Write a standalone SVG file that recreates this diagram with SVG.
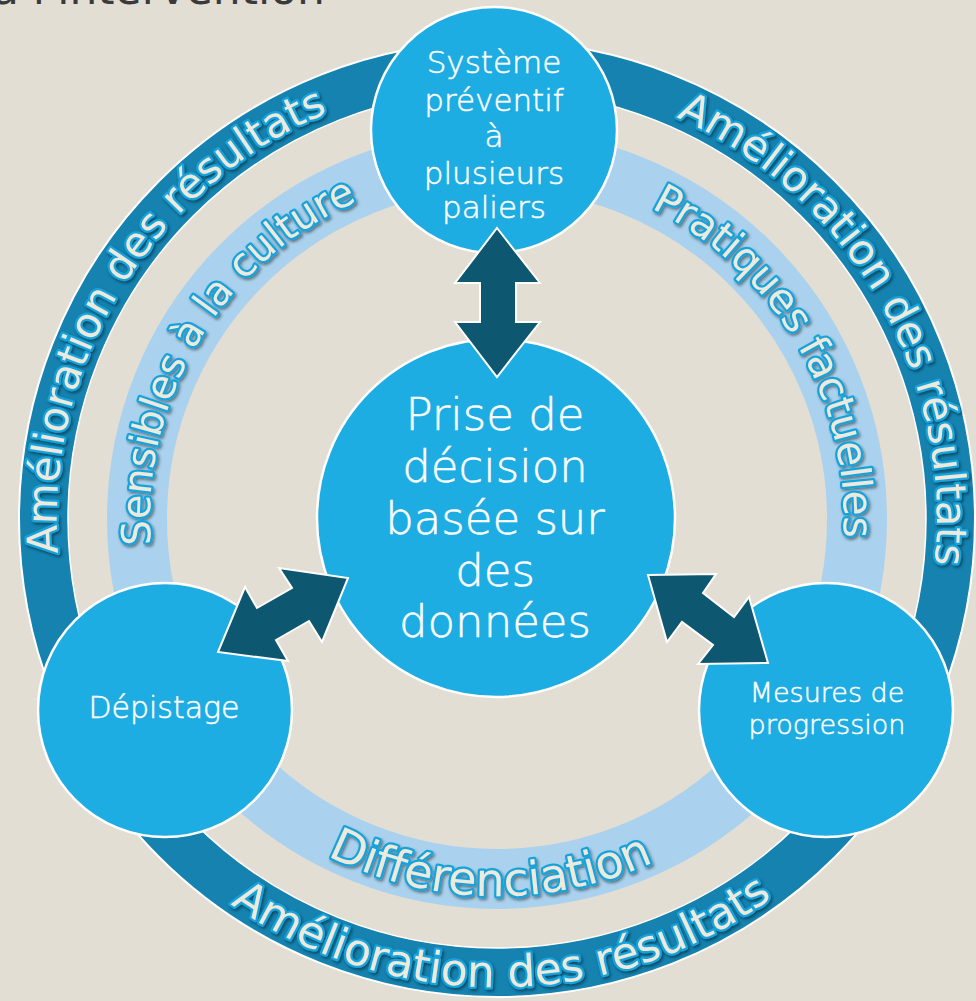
<svg xmlns="http://www.w3.org/2000/svg" width="976" height="1001" viewBox="0 0 976 1001">
  <defs>
    <style>
      .ringTxt { font-family: "DejaVu Sans", "Liberation Sans", sans-serif; fill: #EEE9DD; stroke: #17A3DB; stroke-width: 4.5; stroke-linejoin: round; paint-order: stroke fill; filter: url(#shadow); }
      .node { fill: #1EADE3; stroke: #FFFFFF; stroke-width: 2.5; }
      .lbl { font-family: "DejaVu Sans", "Liberation Sans", sans-serif; font-weight: 200; fill: #FFFFFF; stroke: #FFFFFF; stroke-width: 0.5; text-anchor: middle; }
      .arrow { fill: #0E5770; stroke: #FFFFFF; stroke-width: 2; stroke-linejoin: miter; }
    </style>
    <filter id="shadow" x="-10%" y="-10%" width="120%" height="120%">
      <feDropShadow dx="1.5" dy="2" stdDeviation="1.5" flood-color="#000000" flood-opacity="0.45"/>
    </filter>
    <path id="pOuterL" d="M235.3,872.7 A440,440 0 0 1 693.3,125.2"/>
    <path id="pOuterR" d="M311.1,120.2 A440,440 0 0 1 749.4,879.4"/>
    <path id="pOuterB" d="M31.3,565.5 A468,468 0 0 0 963.7,554.1"/>
    <path id="pInnerL" d="M293,799.7 A347,347 0 0 1 649.1,207.1"/>
    <path id="pInnerR" d="M348.7,205.3 A347,347 0 0 1 697.5,802.2"/>
    <path id="pInnerB" d="M120.9,544.6 A377,377 0 0 0 871.9,559.1"/>
  </defs>

  <rect x="0" y="0" width="976" height="1001" fill="#E3DED3"/>

  <text x="325" y="4" font-family="DejaVu Sans, Liberation Sans, sans-serif" font-size="44" fill="#3A3A3A" text-anchor="end">à l'intervention</text>

  <g id="rings">
    <circle cx="497" cy="519" r="453.5" fill="none" stroke="#1582B0" stroke-width="49"/>
    <circle cx="497" cy="519" r="478" fill="none" stroke="#FFFFFF" stroke-width="2"/>
    <circle cx="497" cy="519" r="429" fill="none" stroke="#FFFFFF" stroke-width="1.5"/>
    <circle cx="497" cy="519" r="360" fill="none" stroke="#AAD2EE" stroke-width="60"/>
  </g>

  <g id="ring-labels">
    <text class="ringTxt" font-size="42"><textPath href="#pOuterL" startOffset="50%" text-anchor="middle">Amélioration des résultats</textPath></text>
    <text class="ringTxt" font-size="42"><textPath href="#pOuterR" startOffset="50%" text-anchor="middle">Amélioration des résultats</textPath></text>
    <text class="ringTxt" font-size="44"><textPath href="#pOuterB" startOffset="50%" text-anchor="middle">Amélioration des résultats</textPath></text>
    <text class="ringTxt" font-size="40"><textPath href="#pInnerL" startOffset="50%" text-anchor="middle">Sensibles à la culture</textPath></text>
    <text class="ringTxt" font-size="41"><textPath href="#pInnerR" startOffset="50%" text-anchor="middle">Pratiques factuelles</textPath></text>
    <text class="ringTxt" font-size="46"><textPath href="#pInnerB" startOffset="50%" text-anchor="middle">Différenciation</textPath></text>
  </g>

  <g id="node-top">
    <circle class="node" cx="494" cy="130" r="123"/>
    <text class="lbl" font-size="31" x="494" y="73">Système</text>
    <text class="lbl" font-size="31" x="494" y="111">préventif</text>
    <text class="lbl" font-size="31" x="494" y="147">à</text>
    <text class="lbl" font-size="31" x="494" y="184">plusieurs</text>
    <text class="lbl" font-size="31" x="494" y="218">paliers</text>
  </g>

  <g id="node-center">
    <circle class="node" cx="496" cy="518" r="179"/>
    <text class="lbl" font-size="45" x="495" y="430">Prise de</text>
    <text class="lbl" font-size="45" x="495" y="482">décision</text>
    <text class="lbl" font-size="45" x="495" y="534">basée sur</text>
    <text class="lbl" font-size="45" x="495" y="586">des</text>
    <text class="lbl" font-size="45" x="495" y="637">données</text>
  </g>

  <g id="node-left">
    <circle class="node" cx="165" cy="710" r="127"/>
    <text class="lbl" font-size="30" x="164" y="718">Dépistage</text>
  </g>

  <g id="node-right">
    <circle class="node" cx="826" cy="710" r="127"/>
    <text class="lbl" font-size="27" x="827" y="702">Mesures de</text>
    <text class="lbl" font-size="27" x="827" y="734">progression</text>
  </g>

  <g id="connectors">
    <polygon class="arrow" points="497,228 540,283 516,283 516,322 540,322 497,377 455,322 480,322 480,283 455,283"/>
    <polygon class="arrow" points="348,578 322,642 309,621 276,640 288,661 218,652 245,587 257,608 292,588 279,568"/>
    <polygon class="arrow" points="648,575 716,574 703,593 734,617 749,597 768,663 698,664 713,645 682,622 667,642"/>
  </g>
</svg>
